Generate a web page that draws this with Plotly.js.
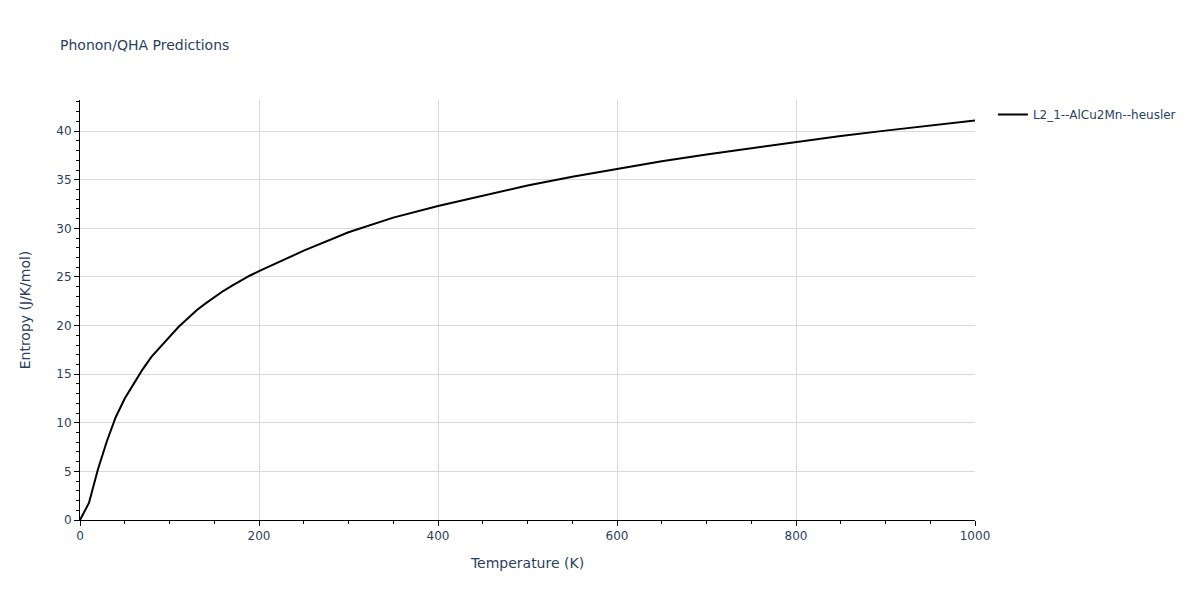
<!DOCTYPE html>
<html>
<head>
<meta charset="utf-8">
<script src="https://cdn.plot.ly/plotly-3.0.1.min.js"></script>
<style>
  html, body { margin: 0; padding: 0; background: #fff; }
  #chart { width: 1200px; height: 600px; }
</style>
</head>
<body>
<div id="chart"></div>
<script>
// Temperatures (K) and entropy values (J/K/mol)
var temperature = [0, 10, 20, 30, 40, 50, 60, 70, 80, 90, 100, 110, 120, 130, 140, 150,
    160, 170, 180, 190, 200, 250, 300, 350, 400, 450, 500, 550, 600, 650, 700,
    750, 800, 850, 900, 950, 1000];
var entropy = [0, 1.75, 5.2, 8.1, 10.6, 12.5, 14.0, 15.5, 16.8, 17.8, 18.9, 19.85, 20.7,
    21.55, 22.25, 22.9, 23.55, 24.1, 24.65, 25.15, 25.6, 27.7, 29.6, 31.1, 32.3,
    33.35, 34.4, 35.3, 36.1, 36.9, 37.6, 38.25, 38.9, 39.5, 40.05, 40.6, 41.1];
var seriesName = 'L2_1--AlCu2Mn--heusler';

var textColor = '#2a3f5f';

var trace = {
    x: temperature,
    y: entropy,
    name: seriesName,
    type: 'scatter',
    mode: 'lines',
    line: { color: 'black', width: 2 },
    showlegend: true
};

var layout = {
    width: 1200,
    height: 600,
    paper_bgcolor: 'white',
    plot_bgcolor: 'white',
    font: { family: 'Verdana, DejaVu Sans, sans-serif', color: textColor, size: 12 },
    title: {
        text: 'Phonon/QHA Predictions',
        x: 0.05, xanchor: 'left',
        y: 0.925, yanchor: 'middle',
        font: { size: 14, color: textColor }
    },
    margin: { l: 80, r: 225, t: 100, b: 80 },
    xaxis: {
        title: { text: 'Temperature (K)', font: { size: 14 }, standoff: 15 },
        range: [0, 1000],
        dtick: 200,
        showgrid: true,
        gridcolor: '#d9d9d9',
        showline: true,
        linecolor: 'black',
        linewidth: 1,
        ticks: 'outside',
        ticklen: 5,
        tickcolor: 'black',
        zeroline: false,
        minor: { dtick: 50, ticks: 'outside', ticklen: 3, tickcolor: 'black', showgrid: false }
    },
    yaxis: {
        title: { text: 'Entropy (J/K/mol)', font: { size: 14 }, standoff: 22 },
        range: [0, 43.2],
        dtick: 5,
        showgrid: true,
        gridcolor: '#d9d9d9',
        showline: true,
        linecolor: 'black',
        linewidth: 1,
        ticks: 'outside',
        ticklen: 5,
        tickcolor: 'black',
        zeroline: false,
        minor: { dtick: 1, ticks: 'outside', ticklen: 3, tickcolor: 'black', showgrid: false }
    },
    legend: {
        x: 1.02, xanchor: 'left',
        y: 1, yanchor: 'top',
        font: { size: 12 }
    }
};

Plotly.newPlot('chart', [trace], layout, { displayModeBar: false });
</script>
</body>
</html>
